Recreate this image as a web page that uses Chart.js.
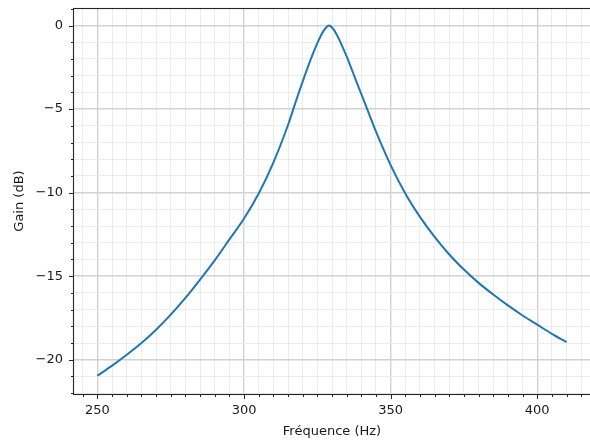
<!DOCTYPE html>
<html lang="fr">
<head>
<meta charset="utf-8">
<script src="https://cdn.jsdelivr.net/npm/chart.js@4.4.0/dist/chart.umd.min.js"></script>
<style>
  html, body { margin: 0; padding: 0; background: #fff; }
  #wrap { width: 590px; height: 446px; }
</style>
</head>
<body>
<div id="wrap"><canvas id="gainChart"></canvas></div>
<script>
  // frequency response of the resonant filter
  const freqHz = [250, 255, 260, 265, 270, 275, 280, 285, 290, 295, 300, 305, 310, 315, 317,
                  319, 321, 323, 325, 326.5, 328, 329, 330, 331.5, 333, 335, 337, 340, 342, 345,
                  350, 355, 360, 365, 370, 375, 380, 385, 390, 395, 400, 405, 410];
  const gainDb = [-20.95, -20.35, -19.7, -19.0, -18.2, -17.3, -16.3, -15.2, -14.05, -12.8, -11.55, -10.05, -8.2, -5.95, -4.9,
                  -3.85, -2.85, -1.9, -1.05, -0.5, -0.12, 0.0, -0.12, -0.5, -1.05, -1.85, -2.75, -4.1, -5.0, -6.35,
                  -8.35, -10.05, -11.45, -12.65, -13.7, -14.6, -15.4, -16.1, -16.75, -17.35, -17.9, -18.45, -18.95];

  // axis ticks (major ones carry labels, minor ones only grid + small tick)
  const xMajor = [250, 300, 350, 400];
  const xTickLabels = ["250", "300", "350", "400"];
  const xMinorStep = 5;
  const yMajor = [0, -5, -10, -15, -20];
  const yTickLabels = ["0", "\u22125", "\u221210", "\u221215", "\u221220"];
  const yMinorStep = 1;

  const X_MIN = 242, X_MAX = 418;
  const Y_MIN = -22.05, Y_MAX = 1.05;

  const FONT = { family: "'DejaVu Sans', sans-serif", size: 13 };
  const TEXT = "#1a1a1a";

  function stepTicks(lo, hi, step) {
    const out = [];
    for (let v = Math.ceil(lo / step) * step; v <= hi + 1e-9; v += step) out.push({ value: v });
    return out;
  }

  function isMajor(list, v) {
    return list.some(m => Math.abs(m - v) < 1e-6);
  }

  function labelFor(list, labels, v) {
    const i = list.findIndex(m => Math.abs(m - v) < 1e-6);
    return i >= 0 ? labels[i] : "";
  }

  // spines + outward tick marks, drawn from the scales
  const framePlugin = {
    id: "frame",
    afterDraw(chart) {
      const { ctx, chartArea: a, scales } = chart;
      ctx.save();
      ctx.strokeStyle = "#262626";
      ctx.lineWidth = 1;

      ctx.beginPath();
      scales.x.ticks.forEach(t => {
        const px = Math.round(scales.x.getPixelForValue(t.value)) + 0.5;
        const len = isMajor(xMajor, t.value) ? 5 : 3;
        ctx.moveTo(px, a.bottom);
        ctx.lineTo(px, a.bottom + len);
      });
      scales.y.ticks.forEach(t => {
        const py = Math.round(scales.y.getPixelForValue(t.value)) + 0.5;
        const len = isMajor(yMajor, t.value) ? 5 : 3;
        ctx.moveTo(a.left, py);
        ctx.lineTo(a.left - len, py);
      });
      ctx.stroke();

      ctx.lineWidth = 1.1;
      ctx.strokeRect(Math.round(a.left) - 0.5, Math.round(a.top) + 0.5,
                     a.right - a.left + 2, a.bottom - a.top);
      ctx.restore();
    }
  };

  const ctx = document.getElementById("gainChart").getContext("2d");
  new Chart(ctx, {
    type: "line",
    data: {
      datasets: [{
        label: "Gain",
        data: freqHz.map((f, i) => ({ x: f, y: gainDb[i] })),
        borderColor: "#1f77b4",
        borderWidth: 2,
        pointRadius: 0,
        fill: false,
        cubicInterpolationMode: "monotone"
      }]
    },
    options: {
      responsive: true,
      maintainAspectRatio: false,
      animation: false,
      devicePixelRatio: 1,
      layout: { padding: { top: 8, right: 0, left: 0, bottom: 0 } },
      plugins: { legend: { display: false }, tooltip: { enabled: false } },
      scales: {
        x: {
          type: "linear",
          min: X_MIN,
          max: X_MAX,
          afterBuildTicks: s => { s.ticks = stepTicks(X_MIN, X_MAX, xMinorStep); },
          afterFit: s => { s.height = 52; s.paddingLeft = 0; s.paddingRight = 0; },
          ticks: {
            autoSkip: false,
            maxRotation: 0,
            padding: 9,
            color: TEXT,
            font: FONT,
            callback: v => labelFor(xMajor, xTickLabels, v)
          },
          grid: {
            drawTicks: false,
            color: c => isMajor(xMajor, c.tick.value) ? "#d2d2d2" : "#ececec",
            lineWidth: c => isMajor(xMajor, c.tick.value) ? 1.4 : 1
          },
          border: { display: false },
          title: {
            display: true,
            text: "Fréquence (Hz)",
            color: TEXT,
            font: FONT,
            padding: { top: 0, bottom: 7 }
          }
        },
        y: {
          type: "linear",
          min: Y_MIN,
          max: Y_MAX,
          afterBuildTicks: s => { s.ticks = stepTicks(Y_MIN, Y_MAX, yMinorStep); },
          afterFit: s => { s.width = 74; s.paddingTop = 0; s.paddingBottom = 0; },
          ticks: {
            autoSkip: false,
            padding: 11,
            color: TEXT,
            font: FONT,
            callback: v => labelFor(yMajor, yTickLabels, v)
          },
          grid: {
            drawTicks: false,
            color: c => isMajor(yMajor, c.tick.value) ? "#d2d2d2" : "#ececec",
            lineWidth: c => isMajor(yMajor, c.tick.value) ? 1.4 : 1
          },
          border: { display: false },
          title: {
            display: true,
            text: "Gain (dB)",
            color: TEXT,
            font: FONT,
            padding: { top: 12, bottom: 0 }
          }
        }
      }
    },
    plugins: [framePlugin]
  });
</script>
</body>
</html>
